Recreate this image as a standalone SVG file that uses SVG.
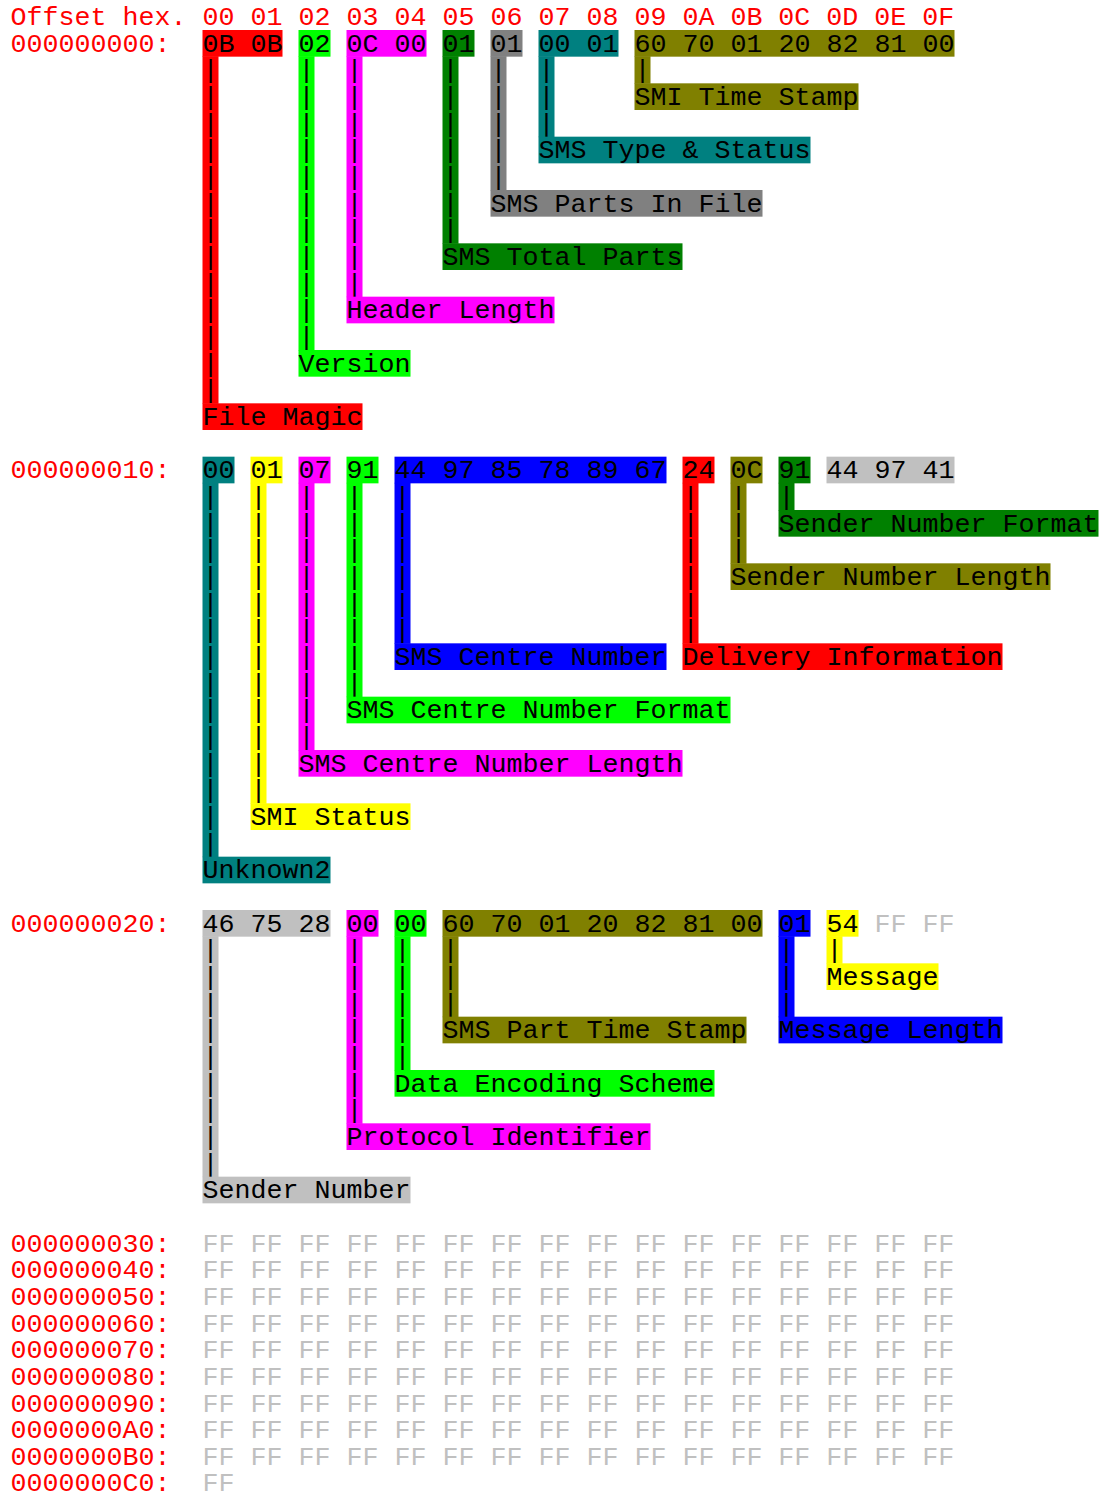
<svg xmlns="http://www.w3.org/2000/svg" width="1101" height="1497" viewBox="0 0 1101 1497">
<style>
text{font-family:"Liberation Mono","Courier New",monospace;font-size:26.667px;fill:#000;white-space:pre;transform:translate(0px,0.5px)}
.off{fill:#ff0000}
.ff{fill:#c0c0c0}
.red rect{fill:#ff0000}
.lime rect{fill:#00ff00}
.magenta rect{fill:#ff00ff}
.green rect{fill:#008000}
.gray rect{fill:#808080}
.teal rect{fill:#008080}
.olive rect{fill:#808000}
.blue rect{fill:#0000ff}
.yellow rect{fill:#ffff00}
.silver rect{fill:#c0c0c0}
</style>
<rect width="1101" height="1497" fill="#fff"/>

<g id="offsets">
<text class="off" x="10.5" y="24.33">Offset hex.</text>
<text class="off" x="202.5" y="24.33">00 01 02 03 04 05 06 07 08 09 0A 0B 0C 0D 0E 0F</text>
<text class="off" x="10.5" y="51">000000000:</text>
<text class="off" x="10.5" y="477.67">000000010:</text>
<text class="off" x="10.5" y="931">000000020:</text>
<text class="off" x="10.5" y="1251">000000030:</text>
<text class="off" x="10.5" y="1277.67">000000040:</text>
<text class="off" x="10.5" y="1304.33">000000050:</text>
<text class="off" x="10.5" y="1331">000000060:</text>
<text class="off" x="10.5" y="1357.67">000000070:</text>
<text class="off" x="10.5" y="1384.33">000000080:</text>
<text class="off" x="10.5" y="1411">000000090:</text>
<text class="off" x="10.5" y="1437.67">0000000A0:</text>
<text class="off" x="10.5" y="1464.33">0000000B0:</text>
<text class="off" x="10.5" y="1490.5">0000000C0:</text>
</g>

<g id="connectors">
<g class="red"><rect x="202.5" y="56.17" width="16" height="347.67"/>
<text><tspan x="202.5" y="77.67">|</tspan><tspan x="202.5" y="104.33">|</tspan><tspan x="202.5" y="131">|</tspan><tspan x="202.5" y="157.67">|</tspan><tspan x="202.5" y="184.33">|</tspan><tspan x="202.5" y="211">|</tspan><tspan x="202.5" y="237.67">|</tspan><tspan x="202.5" y="264.33">|</tspan><tspan x="202.5" y="291">|</tspan><tspan x="202.5" y="317.67">|</tspan><tspan x="202.5" y="344.33">|</tspan><tspan x="202.5" y="371">|</tspan><tspan x="202.5" y="397.67">|</tspan></text></g>
<g class="lime"><rect x="298.5" y="56.17" width="16" height="294.33"/>
<text><tspan x="298.5" y="77.67">|</tspan><tspan x="298.5" y="104.33">|</tspan><tspan x="298.5" y="131">|</tspan><tspan x="298.5" y="157.67">|</tspan><tspan x="298.5" y="184.33">|</tspan><tspan x="298.5" y="211">|</tspan><tspan x="298.5" y="237.67">|</tspan><tspan x="298.5" y="264.33">|</tspan><tspan x="298.5" y="291">|</tspan><tspan x="298.5" y="317.67">|</tspan><tspan x="298.5" y="344.33">|</tspan></text></g>
<g class="magenta"><rect x="346.5" y="56.17" width="16" height="241"/>
<text><tspan x="346.5" y="77.67">|</tspan><tspan x="346.5" y="104.33">|</tspan><tspan x="346.5" y="131">|</tspan><tspan x="346.5" y="157.67">|</tspan><tspan x="346.5" y="184.33">|</tspan><tspan x="346.5" y="211">|</tspan><tspan x="346.5" y="237.67">|</tspan><tspan x="346.5" y="264.33">|</tspan><tspan x="346.5" y="291">|</tspan></text></g>
<g class="green"><rect x="442.5" y="56.17" width="16" height="187.67"/>
<text><tspan x="442.5" y="77.67">|</tspan><tspan x="442.5" y="104.33">|</tspan><tspan x="442.5" y="131">|</tspan><tspan x="442.5" y="157.67">|</tspan><tspan x="442.5" y="184.33">|</tspan><tspan x="442.5" y="211">|</tspan><tspan x="442.5" y="237.67">|</tspan></text></g>
<g class="gray"><rect x="490.5" y="56.17" width="16" height="134.33"/>
<text><tspan x="490.5" y="77.67">|</tspan><tspan x="490.5" y="104.33">|</tspan><tspan x="490.5" y="131">|</tspan><tspan x="490.5" y="157.67">|</tspan><tspan x="490.5" y="184.33">|</tspan></text></g>
<g class="teal"><rect x="538.5" y="56.17" width="16" height="81"/>
<text><tspan x="538.5" y="77.67">|</tspan><tspan x="538.5" y="104.33">|</tspan><tspan x="538.5" y="131">|</tspan></text></g>
<g class="olive"><rect x="634.5" y="56.17" width="16" height="27.67"/>
<text><tspan x="634.5" y="77.67">|</tspan></text></g>

<g class="teal"><rect x="202.5" y="482.83" width="16" height="374.33"/>
<text><tspan x="202.5" y="504.33">|</tspan><tspan x="202.5" y="531">|</tspan><tspan x="202.5" y="557.67">|</tspan><tspan x="202.5" y="584.33">|</tspan><tspan x="202.5" y="611">|</tspan><tspan x="202.5" y="637.67">|</tspan><tspan x="202.5" y="664.33">|</tspan><tspan x="202.5" y="691">|</tspan><tspan x="202.5" y="717.67">|</tspan><tspan x="202.5" y="744.33">|</tspan><tspan x="202.5" y="771">|</tspan><tspan x="202.5" y="797.67">|</tspan><tspan x="202.5" y="824.33">|</tspan><tspan x="202.5" y="851">|</tspan></text></g>
<g class="yellow"><rect x="250.5" y="482.83" width="16" height="321"/>
<text><tspan x="250.5" y="504.33">|</tspan><tspan x="250.5" y="531">|</tspan><tspan x="250.5" y="557.67">|</tspan><tspan x="250.5" y="584.33">|</tspan><tspan x="250.5" y="611">|</tspan><tspan x="250.5" y="637.67">|</tspan><tspan x="250.5" y="664.33">|</tspan><tspan x="250.5" y="691">|</tspan><tspan x="250.5" y="717.67">|</tspan><tspan x="250.5" y="744.33">|</tspan><tspan x="250.5" y="771">|</tspan><tspan x="250.5" y="797.67">|</tspan></text></g>
<g class="magenta"><rect x="298.5" y="482.83" width="16" height="267.67"/>
<text><tspan x="298.5" y="504.33">|</tspan><tspan x="298.5" y="531">|</tspan><tspan x="298.5" y="557.67">|</tspan><tspan x="298.5" y="584.33">|</tspan><tspan x="298.5" y="611">|</tspan><tspan x="298.5" y="637.67">|</tspan><tspan x="298.5" y="664.33">|</tspan><tspan x="298.5" y="691">|</tspan><tspan x="298.5" y="717.67">|</tspan><tspan x="298.5" y="744.33">|</tspan></text></g>
<g class="lime"><rect x="346.5" y="482.83" width="16" height="214.33"/>
<text><tspan x="346.5" y="504.33">|</tspan><tspan x="346.5" y="531">|</tspan><tspan x="346.5" y="557.67">|</tspan><tspan x="346.5" y="584.33">|</tspan><tspan x="346.5" y="611">|</tspan><tspan x="346.5" y="637.67">|</tspan><tspan x="346.5" y="664.33">|</tspan><tspan x="346.5" y="691">|</tspan></text></g>
<g class="blue"><rect x="394.5" y="482.83" width="16" height="161"/>
<text><tspan x="394.5" y="504.33">|</tspan><tspan x="394.5" y="531">|</tspan><tspan x="394.5" y="557.67">|</tspan><tspan x="394.5" y="584.33">|</tspan><tspan x="394.5" y="611">|</tspan><tspan x="394.5" y="637.67">|</tspan></text></g>
<g class="red"><rect x="682.5" y="482.83" width="16" height="161"/>
<text><tspan x="682.5" y="504.33">|</tspan><tspan x="682.5" y="531">|</tspan><tspan x="682.5" y="557.67">|</tspan><tspan x="682.5" y="584.33">|</tspan><tspan x="682.5" y="611">|</tspan><tspan x="682.5" y="637.67">|</tspan></text></g>
<g class="olive"><rect x="730.5" y="482.83" width="16" height="81"/>
<text><tspan x="730.5" y="504.33">|</tspan><tspan x="730.5" y="531">|</tspan><tspan x="730.5" y="557.67">|</tspan></text></g>
<g class="green"><rect x="778.5" y="482.83" width="16" height="27.67"/>
<text><tspan x="778.5" y="504.33">|</tspan></text></g>

<g class="silver"><rect x="202.5" y="936.17" width="16" height="241"/>
<text><tspan x="202.5" y="957.67">|</tspan><tspan x="202.5" y="984.33">|</tspan><tspan x="202.5" y="1011">|</tspan><tspan x="202.5" y="1037.67">|</tspan><tspan x="202.5" y="1064.33">|</tspan><tspan x="202.5" y="1091">|</tspan><tspan x="202.5" y="1117.67">|</tspan><tspan x="202.5" y="1144.33">|</tspan><tspan x="202.5" y="1171">|</tspan></text></g>
<g class="magenta"><rect x="346.5" y="936.17" width="16" height="187.67"/>
<text><tspan x="346.5" y="957.67">|</tspan><tspan x="346.5" y="984.33">|</tspan><tspan x="346.5" y="1011">|</tspan><tspan x="346.5" y="1037.67">|</tspan><tspan x="346.5" y="1064.33">|</tspan><tspan x="346.5" y="1091">|</tspan><tspan x="346.5" y="1117.67">|</tspan></text></g>
<g class="lime"><rect x="394.5" y="936.17" width="16" height="134.33"/>
<text><tspan x="394.5" y="957.67">|</tspan><tspan x="394.5" y="984.33">|</tspan><tspan x="394.5" y="1011">|</tspan><tspan x="394.5" y="1037.67">|</tspan><tspan x="394.5" y="1064.33">|</tspan></text></g>
<g class="olive"><rect x="442.5" y="936.17" width="16" height="81"/>
<text><tspan x="442.5" y="957.67">|</tspan><tspan x="442.5" y="984.33">|</tspan><tspan x="442.5" y="1011">|</tspan></text></g>
<g class="blue"><rect x="778.5" y="936.17" width="16" height="81"/>
<text><tspan x="778.5" y="957.67">|</tspan><tspan x="778.5" y="984.33">|</tspan><tspan x="778.5" y="1011">|</tspan></text></g>
<g class="yellow"><rect x="826.5" y="936.17" width="16" height="27.67"/>
<text><tspan x="826.5" y="957.67">|</tspan></text></g>
</g>

<g id="file-magic" class="red"><rect x="202.5" y="30" width="80" height="26.67"/><text x="202.5" y="51">0B 0B</text><rect x="202.5" y="403.33" width="160" height="26.67"/><text x="202.5" y="424.33">File Magic</text></g>
<g id="version" class="lime"><rect x="298.5" y="30" width="32" height="26.67"/><text x="298.5" y="51">02</text><rect x="298.5" y="350" width="112" height="26.67"/><text x="298.5" y="371">Version</text></g>
<g id="header-length" class="magenta"><rect x="346.5" y="30" width="80" height="26.67"/><text x="346.5" y="51">0C 00</text><rect x="346.5" y="296.67" width="208" height="26.67"/><text x="346.5" y="317.67">Header Length</text></g>
<g id="sms-total-parts" class="green"><rect x="442.5" y="30" width="32" height="26.67"/><text x="442.5" y="51">01</text><rect x="442.5" y="243.33" width="240" height="26.67"/><text x="442.5" y="264.33">SMS Total Parts</text></g>
<g id="sms-parts-in-file" class="gray"><rect x="490.5" y="30" width="32" height="26.67"/><text x="490.5" y="51">01</text><rect x="490.5" y="190" width="272" height="26.67"/><text x="490.5" y="211">SMS Parts In File</text></g>
<g id="sms-type-status" class="teal"><rect x="538.5" y="30" width="80" height="26.67"/><text x="538.5" y="51">00 01</text><rect x="538.5" y="136.67" width="272" height="26.67"/><text x="538.5" y="157.67">SMS Type &amp; Status</text></g>
<g id="smi-time-stamp" class="olive"><rect x="634.5" y="30" width="320" height="26.67"/><text x="634.5" y="51">60 70 01 20 82 81 00</text><rect x="634.5" y="83.33" width="224" height="26.67"/><text x="634.5" y="104.33">SMI Time Stamp</text></g>

<g id="unknown2" class="teal"><rect x="202.5" y="456.67" width="32" height="26.67"/><text x="202.5" y="477.67">00</text><rect x="202.5" y="856.67" width="128" height="26.67"/><text x="202.5" y="877.67">Unknown2</text></g>
<g id="smi-status" class="yellow"><rect x="250.5" y="456.67" width="32" height="26.67"/><text x="250.5" y="477.67">01</text><rect x="250.5" y="803.33" width="160" height="26.67"/><text x="250.5" y="824.33">SMI Status</text></g>
<g id="sms-centre-number-length" class="magenta"><rect x="298.5" y="456.67" width="32" height="26.67"/><text x="298.5" y="477.67">07</text><rect x="298.5" y="750" width="384" height="26.67"/><text x="298.5" y="771">SMS Centre Number Length</text></g>
<g id="sms-centre-number-format" class="lime"><rect x="346.5" y="456.67" width="32" height="26.67"/><text x="346.5" y="477.67">91</text><rect x="346.5" y="696.67" width="384" height="26.67"/><text x="346.5" y="717.67">SMS Centre Number Format</text></g>
<g id="sms-centre-number" class="blue"><rect x="394.5" y="456.67" width="272" height="26.67"/><text x="394.5" y="477.67">44 97 85 78 89 67</text><rect x="394.5" y="643.33" width="272" height="26.67"/><text x="394.5" y="664.33">SMS Centre Number</text></g>
<g id="delivery-information" class="red"><rect x="682.5" y="456.67" width="32" height="26.67"/><text x="682.5" y="477.67">24</text><rect x="682.5" y="643.33" width="320" height="26.67"/><text x="682.5" y="664.33">Delivery Information</text></g>
<g id="sender-number-length" class="olive"><rect x="730.5" y="456.67" width="32" height="26.67"/><text x="730.5" y="477.67">0C</text><rect x="730.5" y="563.33" width="320" height="26.67"/><text x="730.5" y="584.33">Sender Number Length</text></g>
<g id="sender-number-format" class="green"><rect x="778.5" y="456.67" width="32" height="26.67"/><text x="778.5" y="477.67">91</text><rect x="778.5" y="510" width="320" height="26.67"/><text x="778.5" y="531">Sender Number Format</text></g>
<g id="sender-number" class="silver"><rect x="826.5" y="456.67" width="128" height="26.67"/><text x="826.5" y="477.67">44 97 41</text><rect x="202.5" y="910" width="128" height="26.67"/><text x="202.5" y="931">46 75 28</text><rect x="202.5" y="1176.67" width="208" height="26.67"/><text x="202.5" y="1197.67">Sender Number</text></g>

<g id="protocol-identifier" class="magenta"><rect x="346.5" y="910" width="32" height="26.67"/><text x="346.5" y="931">00</text><rect x="346.5" y="1123.33" width="304" height="26.67"/><text x="346.5" y="1144.33">Protocol Identifier</text></g>
<g id="data-encoding-scheme" class="lime"><rect x="394.5" y="910" width="32" height="26.67"/><text x="394.5" y="931">00</text><rect x="394.5" y="1070" width="320" height="26.67"/><text x="394.5" y="1091">Data Encoding Scheme</text></g>
<g id="sms-part-time-stamp" class="olive"><rect x="442.5" y="910" width="320" height="26.67"/><text x="442.5" y="931">60 70 01 20 82 81 00</text><rect x="442.5" y="1016.67" width="304" height="26.67"/><text x="442.5" y="1037.67">SMS Part Time Stamp</text></g>
<g id="message-length" class="blue"><rect x="778.5" y="910" width="32" height="26.67"/><text x="778.5" y="931">01</text><rect x="778.5" y="1016.67" width="224" height="26.67"/><text x="778.5" y="1037.67">Message Length</text></g>
<g id="message" class="yellow"><rect x="826.5" y="910" width="32" height="26.67"/><text x="826.5" y="931">54</text><rect x="826.5" y="963.33" width="112" height="26.67"/><text x="826.5" y="984.33">Message</text></g>

<g id="padding">
<text class="ff" x="874.5" y="931">FF FF</text>
<text class="ff" x="202.5" y="1251">FF FF FF FF FF FF FF FF FF FF FF FF FF FF FF FF</text>
<text class="ff" x="202.5" y="1277.67">FF FF FF FF FF FF FF FF FF FF FF FF FF FF FF FF</text>
<text class="ff" x="202.5" y="1304.33">FF FF FF FF FF FF FF FF FF FF FF FF FF FF FF FF</text>
<text class="ff" x="202.5" y="1331">FF FF FF FF FF FF FF FF FF FF FF FF FF FF FF FF</text>
<text class="ff" x="202.5" y="1357.67">FF FF FF FF FF FF FF FF FF FF FF FF FF FF FF FF</text>
<text class="ff" x="202.5" y="1384.33">FF FF FF FF FF FF FF FF FF FF FF FF FF FF FF FF</text>
<text class="ff" x="202.5" y="1411">FF FF FF FF FF FF FF FF FF FF FF FF FF FF FF FF</text>
<text class="ff" x="202.5" y="1437.67">FF FF FF FF FF FF FF FF FF FF FF FF FF FF FF FF</text>
<text class="ff" x="202.5" y="1464.33">FF FF FF FF FF FF FF FF FF FF FF FF FF FF FF FF</text>
<text class="ff" x="202.5" y="1490.5">FF</text>
</g>
</svg>
